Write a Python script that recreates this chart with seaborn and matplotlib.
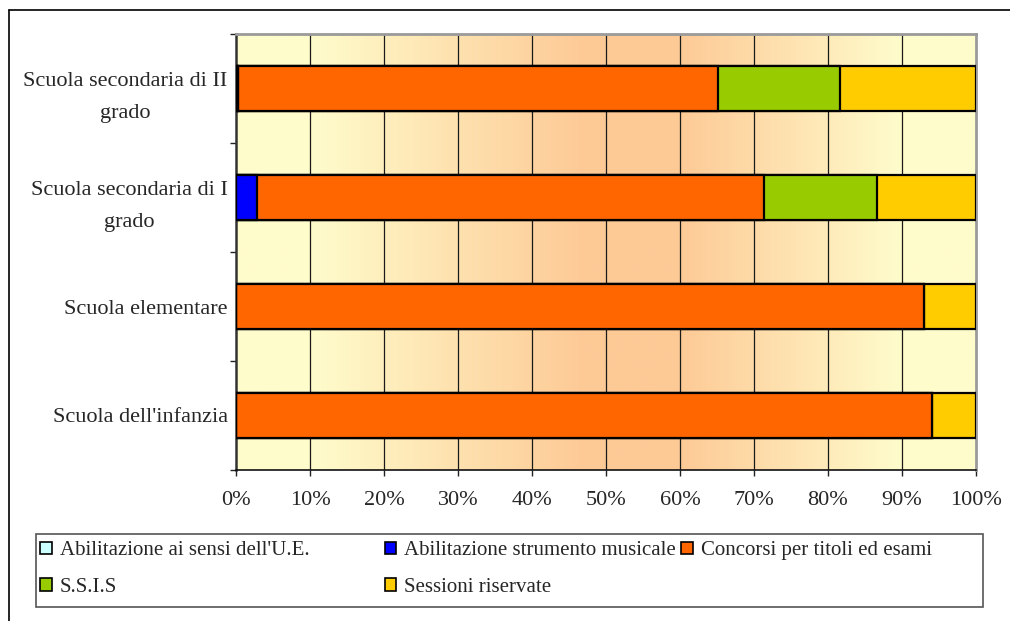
import numpy as np
import pandas as pd
import matplotlib
matplotlib.use("Agg")
import matplotlib.pyplot as plt
from matplotlib.lines import Line2D
from matplotlib.patches import Rectangle, Patch
import seaborn as sns

# Categories (top to bottom) and percentage shares for each qualification route
categories = ["Scuola secondaria di II\ngrado", "Scuola secondaria di I\ngrado",
              "Scuola elementare", "Scuola dell'infanzia"]
series_names = ["Abilitazione ai sensi dell'U.E.", "Abilitazione strumento musicale",
                "Concorsi per titoli ed esami", "S.S.I.S", "Sessioni riservate"]
abilitazione_ue = [0.3, 0.0, 0.0, 0.0]
strumento_musicale = [0.0, 2.8, 0.0, 0.0]
concorsi = [64.8, 68.5, 93.0, 94.0]
ssis = [16.5, 15.3, 0.0, 0.0]
sessioni_riservate = [18.4, 13.4, 7.0, 6.0]
x_ticks = [0, 10, 20, 30, 40, 50, 60, 70, 80, 90, 100]

colors = ["#CCFFFF", "#0000FF", "#FF6600", "#99CC00", "#FFCC00"]

sns.set_theme(style="white")
plt.rcParams["font.family"] = ["Liberation Serif", "DejaVu Serif"]
FS = 16

W, H = 1010, 621
fig = plt.figure(figsize=(W / 100, H / 100), dpi=100)
ax = fig.add_axes([236 / W, 1 - 470 / H, (976 - 236) / W, (470 - 34) / H])

# Horizontal gradient backdrop: pale yellow at the edges, peach in the middle
light = np.array([255, 252, 204]) / 255
peach = np.array([253, 202, 150]) / 255
stops = [0.0, 0.1, 0.47, 0.6, 0.9, 1.0]
stop_cols = [light, light, peach, peach, light, light]
xs = np.linspace(0, 1, 600)
grad = np.stack([np.interp(xs, stops, [c[i] for c in stop_cols]) for i in range(3)], axis=-1)
ax.imshow(grad[np.newaxis, :, :], extent=[0, 100, 3.5, -0.5], aspect="auto",
          zorder=0, interpolation="bilinear")

# Stacked bars: draw cumulative totals from the outermost segment inwards
data = pd.DataFrame(
    np.array([abilitazione_ue, strumento_musicale, concorsi, ssis, sessioni_riservate]).T,
    columns=series_names)
data["categoria"] = categories
cum = data[series_names].cumsum(axis=1)
for name, col in reversed(list(zip(series_names, colors))):
    vals = cum[name].values
    if np.allclose(data[name].values, 0):
        continue
    sns.barplot(x=vals, y=categories, orient="h", color=col, width=0.41,
                edgecolor="black", linewidth=1.6, saturation=1, ax=ax, zorder=3)

ax.set_xlim(0, 100)
ax.set_ylim(3.5, -0.5)
ax.set_xticks(x_ticks)
ax.set_xticklabels([f"{t}%" for t in x_ticks], fontsize=FS)
ax.set_xlabel("")
ax.set_ylabel("")

# Vertical gridlines
for t in x_ticks[1:-1]:
    ax.axvline(t, color="#1a1a1a", lw=0.9, zorder=1)

# Category labels and boundary ticks
ax.set_yticks(range(len(categories)))
ax.set_yticklabels(categories, fontsize=FS)
for lab in ax.get_yticklabels():
    lab.set_multialignment("center")
    lab.set_linespacing(1.9)
ax.set_yticks([-0.5, 0.5, 1.5, 2.5, 3.5], minor=True)
ax.tick_params(axis="y", which="major", length=0, pad=6)
ax.tick_params(axis="y", which="minor", length=4, width=1, color="#222222", left=True)
ax.tick_params(axis="x", which="major", length=4, width=1, color="#222222", bottom=True, pad=11)

for side in ["top", "right"]:
    ax.spines[side].set_color("#9a9a9a")
    ax.spines[side].set_linewidth(2)
ax.spines["left"].set_color("#333333")
ax.spines["left"].set_linewidth(1.8)
ax.spines["bottom"].set_color("#111111")
ax.spines["bottom"].set_linewidth(1.2)

# Legend inside a boxed frame beneath the chart
fig.add_artist(Rectangle((36 / W, 1 - 607 / H), (983 - 36) / W, (607 - 534) / H,
                         transform=fig.transFigure, fill=False,
                         edgecolor="#555555", lw=1.2))
handles = [Patch(facecolor=c, edgecolor="black", lw=1.2) for c in colors]
leg_kw = dict(loc="upper left", frameon=False, fontsize=15, handlelength=0.55,
              handleheight=0.55, handletextpad=0.4, labelspacing=0.85,
              borderpad=0.2, borderaxespad=0)
order = [0, 3, 1, 4]
fig.legend([handles[i] for i in order], [series_names[i] for i in order],
           bbox_to_anchor=(36 / W, 1 - 537 / H), ncol=2, columnspacing=3.6, **leg_kw)
fig.legend([handles[2]], [series_names[2]],
           bbox_to_anchor=(677 / W, 1 - 537 / H), ncol=1, **leg_kw)

# Outer frame lines along the top and left of the figure
fig.add_artist(Line2D([9 / W, 1], [1 - 10 / H, 1 - 10 / H], transform=fig.transFigure,
                      color="black", lw=1.2))
fig.add_artist(Line2D([9 / W, 9 / W], [0, 1 - 10 / H], transform=fig.transFigure,
                      color="black", lw=1.2))

fig.savefig("out.png", dpi=100)
